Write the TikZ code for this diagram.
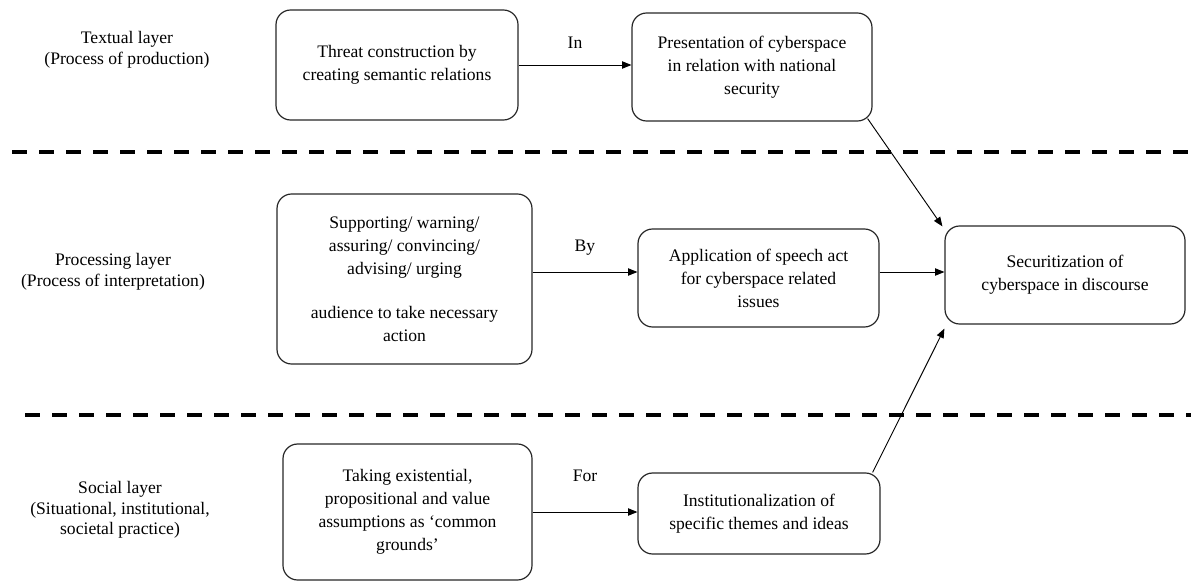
\documentclass[tikz,border=0pt]{standalone}
\usepackage{fontspec}
\setmainfont{Liberation Serif}
\usetikzlibrary{arrows.meta}
\tikzstyle{stage} = [draw=black!85, line width=0.9pt, rounded corners=11pt, align=center, inner sep=2pt, font=\fontsize{13.2}{17.25}\selectfont]
\tikzstyle{layer} = [align=center, font=\fontsize{13.2}{15.5}\selectfont]
\tikzstyle{word} = [font=\fontsize{13.2}{17}\selectfont]
\tikzstyle{link} = [-{Triangle[length=7pt,width=5.5pt]}, line width=0.7pt]
\tikzstyle{divider} = [line width=3pt, dash pattern=on 11.25pt off 9pt]

\begin{document}
\begin{tikzpicture}[x=0.75pt,y=-0.75pt]
  \useasboundingbox (0,0) rectangle (1191,581);
  \node[layer](textual) at (127,50){Textual layer\\(Process of production)};
  \node[layer](processing) at (113,272){Processing layer\\(Process of interpretation)};
  \node[layer](social) at (120,510){Social layer\\(Situational, institutional,\\societal practice)};
  \draw[divider] (12,152) -- (1191,152);
  \draw[divider] (25,415) -- (1191,415);
  \node[stage, minimum width=181.5pt, minimum height=82.5pt](threat) at (397,65){Threat construction by\\creating semantic relations};
  \node[stage, minimum width=180pt, minimum height=81pt](present) at (752,67){Presentation of cyberspace\\in relation with national\\security};
  \node[stage, minimum width=191.25pt, minimum height=127.5pt](support) at (404.5,279){Supporting/ warning/\\assuring/ convincing/\\advising/ urging\\[16pt]audience to take necessary\\action};
  \node[stage, minimum width=180.75pt, minimum height=73.5pt](speech) at (758.5,278){Application of speech act\\for cyberspace related\\issues};
  \node[stage, minimum width=180pt, minimum height=73.5pt](secure) at (1065,275){Securitization of\\cyberspace in discourse};
  \node[stage, minimum width=186.75pt, minimum height=102pt](assume) at (407.5,512){Taking existential,\\propositional and value\\assumptions as `common\\grounds'};
  \node[stage, minimum width=181.5pt, minimum height=60.75pt](theme) at (759,513.5){Institutionalization of\\specific themes and ideas};
  \coordinate (byTip) at ([yshift=4.5pt]speech.west);
  \draw[link](threat.east) -- node[word,above=8.5pt]{In} (threat.east -| present.west);
  \draw[link](support.east |- byTip) -- node[word,above=8.5pt]{By} (byTip);
  \draw[link](assume.east) -- node[word,above=19pt]{For} (assume.east -| theme.west);
  \draw[link](byTip -| speech.east) -- (byTip -| secure.west);
  \draw[link]([xshift=-3.75pt,yshift=2.25pt]present.south east) -- ([xshift=-1.5pt,yshift=-0.75pt]secure.north west);
  \draw[link]([xshift=-6pt]theme.north east) -- ([yshift=-3pt]secure.south west);
\end{tikzpicture}
\end{document}
